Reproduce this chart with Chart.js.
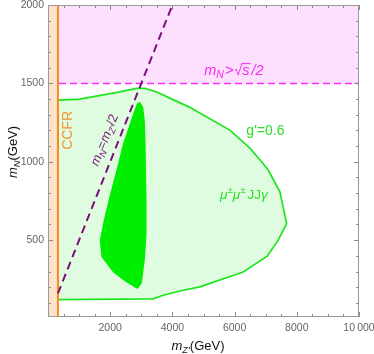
<!DOCTYPE html>
<html><head><meta charset="utf-8">
<script src="https://cdn.jsdelivr.net/npm/chart.js@4.4.1/dist/chart.umd.min.js"></script>
<style>html,body{margin:0;padding:0;background:#fff}#wrap{width:374px;height:354px}</style>
</head><body><div id="wrap"><canvas id="c" width="374" height="354"></canvas></div>
<script>
// ---- data ----
const xTickValues = [2000, 4000, 6000, 8000, 10000];
const xTickLabels = ['2000', '4000', '6000', '8000', '10\u2009000'];
const yTickValues = [500, 1000, 1500, 2000];
const yTickLabels = ['500', '1000', '1500', '2000'];

const xRange = [0, 10000];
const yRange = [10, 2000];

const ccfrMass = 320;          // CCFR bound on m_Z'
const kinematicLimit = 1500;   // m_N > sqrt(s)/2

// g'=0.6 reach envelope (mu mu JJ gamma)
const envelopeX = [322, 1020, 2308, 2845, 3112, 3500, 3917, 4561, 4989, 5847, 6491, 6868, 7081, 7457, 7673, 7403, 7049, 6276, 4883, 4239, 3701, 3380, 322, 322];
const envelopeY = [1393, 1400, 1446, 1468, 1468, 1445, 1406, 1347, 1298, 1202, 1087, 1000, 947, 808, 606, 500, 398, 297, 202, 176, 149, 126, 121, 1393];

// inner (dark green) region
const coreX = [2951, 3058, 3112, 3135, 3167, 3167, 3112, 3016, 2897, 2845, 2469, 2092, 1719, 1664, 1793, 1986, 2201, 2414, 2565, 2726, 2855];
const coreY = [1383, 1351, 1266, 1138, 755, 532, 372, 225, 191, 191, 238, 296, 393, 500, 627, 787, 947, 1117, 1204, 1300, 1370];

// m_N = m_Z'/2 line
const diagX = [320, 4000];
const diagY = [160, 2000];

// ---- helpers ----
const pts = (xs, ys) => xs.map((x, i) => ({x, y: ys[i]}));
const FAM = '"Liberation Sans", Arial, sans-serif';

function segFont(seg, size) {
  const s = (seg.sub || seg.sup) ? size * 0.72 : size;
  return (seg.it ? 'italic ' : '') + s + 'px ' + FAM;
}
function richWidth(ctx, segs, size) {
  let w = 0;
  for (const s of segs) { ctx.font = segFont(s, size); w += ctx.measureText(s.t).width + (s.gap || 0); }
  return w;
}
function drawRich(ctx, segs, size, cx, cy, color, angle) {
  ctx.save();
  ctx.translate(cx, cy);
  if (angle) ctx.rotate(angle);
  ctx.fillStyle = color; ctx.strokeStyle = color;
  ctx.textBaseline = 'middle'; ctx.textAlign = 'left';
  let x = -richWidth(ctx, segs, size) / 2;
  for (const s of segs) {
    ctx.font = segFont(s, size);
    let dy = 0;
    if (s.sub) dy = size * 0.3;
    if (s.sup) dy = -size * 0.38;
    const w = ctx.measureText(s.t).width;
    ctx.fillText(s.t, x, dy);
    if (s.over) {
      ctx.lineWidth = 1;
      ctx.beginPath(); ctx.moveTo(x - 1, -size * 0.52); ctx.lineTo(x + w + 1, -size * 0.52); ctx.stroke();
    }
    x += w + (s.gap || 0);
  }
  ctx.restore();
}

const decor = {
  id: 'decor',
  afterDatasetsDraw(chart) {
    const {ctx, chartArea: a, scales: {x, y}} = chart;
    ctx.save();
    // ticks
    ctx.strokeStyle = '#8a8a8a'; ctx.lineWidth = 1;
    ctx.beginPath();
    for (let v = 0; v <= xRange[1]; v += 500) {
      const px = Math.round(x.getPixelForValue(v)) + 0.5;
      const len = v % 2000 === 0 ? 5 : 3;
      ctx.moveTo(px, a.bottom); ctx.lineTo(px, a.bottom - len);
      ctx.moveTo(px, a.top); ctx.lineTo(px, a.top + len);
    }
    for (let v = 100; v <= yRange[1]; v += 100) {
      const py = Math.round(y.getPixelForValue(v)) + 0.5;
      const len = v % 500 === 0 ? 5 : 3;
      ctx.moveTo(a.left, py); ctx.lineTo(a.left + len, py);
      ctx.moveTo(a.right, py); ctx.lineTo(a.right - len, py);
    }
    ctx.stroke();
    // frame
    ctx.strokeStyle = '#9a9a9a';
    ctx.strokeRect(Math.round(a.left) + 0.5, Math.round(a.top) + 0.5, Math.round(a.right - a.left) - 1, Math.round(a.bottom - a.top) - 1);
    ctx.restore();

    // annotations
    drawRich(ctx, [{t: 'CCFR'}], 14, x.getPixelForValue(640), y.getPixelForValue(1200), '#f79232', -Math.PI / 2);
    drawRich(ctx, [{t: 'm', it: 1}, {t: 'N', it: 1, sub: 1, gap: 1}, {t: '>', it: 1, gap: 1}, {t: '\u221A'}, {t: 's', it: 1, over: 1, gap: 2}, {t: '/2', it: 1}], 14.5, x.getPixelForValue(5980), y.getPixelForValue(1578), '#f02cf0', 0);
    drawRich(ctx, [{t: "g'=0.6"}], 14, x.getPixelForValue(6990), y.getPixelForValue(1196), '#2ade2a', 0);
    drawRich(ctx, [{t: '\u03BC', it: 1}, {t: '\u00B1', sup: 1}, {t: '\u03BC', it: 1}, {t: '\u00B1', sup: 1, gap: 2}, {t: 'JJ'}, {t: '\u03B3', it: 1}], 13.5, x.getPixelForValue(6300), y.getPixelForValue(787), '#2ade2a', 0);
    const ang = Math.atan2(y.getPixelForValue(diagY[1]) - y.getPixelForValue(diagY[0]), x.getPixelForValue(diagX[1]) - x.getPixelForValue(diagX[0]));
    drawRich(ctx, [{t: 'm', it: 1}, {t: 'N', it: 1, sub: 1}, {t: '='}, {t: 'm', it: 1}, {t: "Z'", it: 1, sub: 1}, {t: '/2'}], 13, x.getPixelForValue(1825), y.getPixelForValue(1138), '#7d1c7d', ang);

    // axis titles
    drawRich(ctx, [{t: 'm', it: 1}, {t: 'N', it: 1, sub: 1}, {t: '(GeV)'}], 13, 13, 152, '#111', -Math.PI / 2);
    drawRich(ctx, [{t: 'm', it: 1}, {t: "Z'", it: 1, sub: 1}, {t: '(GeV)'}], 13, 198, 346, '#111', 0);
  }
};

new Chart(document.getElementById('c'), {
  type: 'line',
  data: {
    datasets: [
      {data: pts(diagX, diagY), borderColor: '#7a0f7a', borderWidth: 2, borderDash: [8, 5], fill: false, order: 1},
      {data: pts([ccfrMass, ccfrMass], yRange), borderColor: '#ff8a1c', borderWidth: 2, fill: false, order: 2},
      {data: pts(coreX, coreY), borderWidth: 0, borderColor: 'rgba(0,0,0,0)', backgroundColor: '#00ee00', fill: 'shape', order: 3},
      {data: pts(envelopeX, envelopeY), borderColor: '#1ee61e', borderWidth: 1.7, backgroundColor: '#e0fce0', fill: 'shape', order: 4},
      {data: pts([xRange[0], ccfrMass, ccfrMass, xRange[0], xRange[0]], [yRange[0], yRange[0], yRange[1], yRange[1], yRange[0]]), borderWidth: 0, borderColor: 'rgba(0,0,0,0)', backgroundColor: '#fde3cc', fill: 'shape', order: 5},
      {data: pts(xRange, [kinematicLimit, kinematicLimit]), borderColor: '#ff2cff', borderWidth: 1.5, borderDash: [7, 4], fill: false, order: 6},
      {data: pts([xRange[0], xRange[1], xRange[1], xRange[0], xRange[0]], [kinematicLimit, kinematicLimit, yRange[1], yRange[1], kinematicLimit]), borderWidth: 0, borderColor: 'rgba(0,0,0,0)', backgroundColor: '#fde0fd', fill: 'shape', order: 7}
    ]
  },
  options: {
    responsive: false, animation: false, devicePixelRatio: 1,
    elements: {point: {radius: 0, hoverRadius: 0}, line: {tension: 0}},
    layout: {padding: {left: 0, right: 15, top: 5, bottom: 0}},
    plugins: {legend: {display: false}, tooltip: {enabled: false}},
    events: [],
    scales: {
      x: {
        type: 'linear', min: xRange[0], max: xRange[1],
        grid: {display: false, drawTicks: false}, border: {display: false},
        afterBuildTicks: s => { s.ticks = xTickValues.map(v => ({value: v})); },
        ticks: {callback: (v, i) => xTickLabels[i], color: '#666', font: {family: FAM, size: 10.5}, padding: 5, maxRotation: 0, autoSkip: false},
        afterFit: s => { s.height = 37; s.paddingLeft = 0; s.paddingRight = 0; }
      },
      y: {
        type: 'linear', min: yRange[0], max: yRange[1],
        grid: {display: false, drawTicks: false}, border: {display: false},
        afterBuildTicks: s => { s.ticks = yTickValues.map(v => ({value: v})); },
        ticks: {callback: (v, i) => yTickLabels[i], color: '#666', font: {family: FAM, size: 10.5}, padding: 4, autoSkip: false},
        afterFit: s => { s.width = 48; s.paddingTop = 0; s.paddingBottom = 0; }
      }
    }
  },
  plugins: [decor]
});
</script></body></html>
